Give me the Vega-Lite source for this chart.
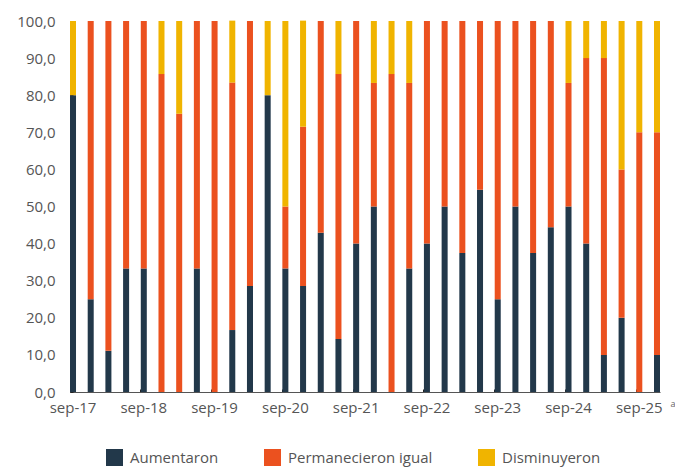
{
  "$schema": "https://vega.github.io/schema/vega-lite/v6.json",
  "width": 590,
  "height": 371,
  "autosize": {"type": "none"},
  "padding": {"left": 70, "top": 21, "right": 15, "bottom": 76},
  "background": "white",
  "config": {
    "font": "Open Sans",
    "view": {"stroke": null}
  },
  "data": {
    "values": [
      {"q": "sep-17", "Aumentaron": 80, "Permanecieron igual": 0, "Disminuyeron": 20},
      {"q": "dic-17", "Aumentaron": 25, "Permanecieron igual": 75, "Disminuyeron": 0},
      {"q": "mar-18", "Aumentaron": 11.1, "Permanecieron igual": 88.9, "Disminuyeron": 0},
      {"q": "jun-18", "Aumentaron": 33.3, "Permanecieron igual": 66.7, "Disminuyeron": 0},
      {"q": "sep-18", "Aumentaron": 33.3, "Permanecieron igual": 66.7, "Disminuyeron": 0},
      {"q": "dic-18", "Aumentaron": 0, "Permanecieron igual": 85.7, "Disminuyeron": 14.3},
      {"q": "mar-19", "Aumentaron": 0, "Permanecieron igual": 75, "Disminuyeron": 25},
      {"q": "jun-19", "Aumentaron": 33.3, "Permanecieron igual": 66.7, "Disminuyeron": 0},
      {"q": "sep-19", "Aumentaron": 0, "Permanecieron igual": 100, "Disminuyeron": 0},
      {"q": "dic-19", "Aumentaron": 16.7, "Permanecieron igual": 66.7, "Disminuyeron": 16.7},
      {"q": "mar-20", "Aumentaron": 28.6, "Permanecieron igual": 71.4, "Disminuyeron": 0},
      {"q": "jun-20", "Aumentaron": 80, "Permanecieron igual": 0, "Disminuyeron": 20},
      {"q": "sep-20", "Aumentaron": 33.3, "Permanecieron igual": 16.7, "Disminuyeron": 50},
      {"q": "dic-20", "Aumentaron": 28.6, "Permanecieron igual": 42.9, "Disminuyeron": 28.6},
      {"q": "mar-21", "Aumentaron": 42.9, "Permanecieron igual": 57.1, "Disminuyeron": 0},
      {"q": "jun-21", "Aumentaron": 14.3, "Permanecieron igual": 71.4, "Disminuyeron": 14.3},
      {"q": "sep-21", "Aumentaron": 40, "Permanecieron igual": 60, "Disminuyeron": 0},
      {"q": "dic-21", "Aumentaron": 50, "Permanecieron igual": 33.3, "Disminuyeron": 16.7},
      {"q": "mar-22", "Aumentaron": 0, "Permanecieron igual": 85.7, "Disminuyeron": 14.3},
      {"q": "jun-22", "Aumentaron": 33.3, "Permanecieron igual": 50, "Disminuyeron": 16.7},
      {"q": "sep-22", "Aumentaron": 40, "Permanecieron igual": 60, "Disminuyeron": 0},
      {"q": "dic-22", "Aumentaron": 50, "Permanecieron igual": 50, "Disminuyeron": 0},
      {"q": "mar-23", "Aumentaron": 37.5, "Permanecieron igual": 62.5, "Disminuyeron": 0},
      {"q": "jun-23", "Aumentaron": 54.5, "Permanecieron igual": 45.5, "Disminuyeron": 0},
      {"q": "sep-23", "Aumentaron": 25, "Permanecieron igual": 75, "Disminuyeron": 0},
      {"q": "dic-23", "Aumentaron": 50, "Permanecieron igual": 50, "Disminuyeron": 0},
      {"q": "mar-24", "Aumentaron": 37.5, "Permanecieron igual": 62.5, "Disminuyeron": 0},
      {"q": "jun-24", "Aumentaron": 44.4, "Permanecieron igual": 55.6, "Disminuyeron": 0},
      {"q": "sep-24", "Aumentaron": 50, "Permanecieron igual": 33.3, "Disminuyeron": 16.7},
      {"q": "dic-24", "Aumentaron": 40, "Permanecieron igual": 50, "Disminuyeron": 10},
      {"q": "mar-25", "Aumentaron": 10, "Permanecieron igual": 80, "Disminuyeron": 10},
      {"q": "jun-25", "Aumentaron": 20, "Permanecieron igual": 40, "Disminuyeron": 40},
      {"q": "sep-25", "Aumentaron": 0, "Permanecieron igual": 70, "Disminuyeron": 30},
      {"q": "dic-25", "Aumentaron": 10, "Permanecieron igual": 60, "Disminuyeron": 30}
    ]
  },
  "transform": [
    {"fold": ["Aumentaron", "Permanecieron igual", "Disminuyeron"], "as": ["serie", "valor"]},
    {"calculate": "indexof(['Aumentaron','Permanecieron igual','Disminuyeron'], datum.serie)", "as": "orden"}
  ],
  "mark": {"type": "bar", "strokeWidth": 0},
  "encoding": {
    "x": {
      "field": "q",
      "type": "ordinal",
      "sort": null,
      "scale": {"paddingInner": 0.66, "paddingOuter": 0},
      "axis": {
        "title": "a",
        "titleX": 600,
        "titleY": 11,
        "titleAlign": "left",
        "titleBaseline": "middle",
        "titleFontSize": 9,
        "titleFontWeight": "normal",
        "titleColor": "#666666",
        "titleAnchor": null,
        "bandPosition": 0,
        "labelAngle": 0,
        "labelOverlap": false,
        "labelExpr": "slice(datum.value,0,3)==='sep' ? datum.value : ''",
        "labelFontSize": 15,
        "labelColor": "#555555",
        "labelPadding": 11,
        "labelBaseline": "top",
        "domainColor": "#555555",
        "domainWidth": 1,
        "tickColor": "#222222",
        "tickSize": -3,
        "tickOpacity": {"condition": {"test": "slice(datum.value,0,3)==='sep'", "value": 1}, "value": 0}
      }
    },
    "y": {
      "field": "valor",
      "type": "quantitative",
      "stack": "zero",
      "scale": {"domain": [0, 100], "nice": false},
      "axis": {
        "title": null,
        "values": [0, 10, 20, 30, 40, 50, 60, 70, 80, 90, 100],
        "labelExpr": "replace(format(datum.value,'.1f'),'.',',')",
        "labelFontSize": 15,
        "labelColor": "#555555",
        "labelPadding": 18,
        "grid": false,
        "domainColor": "#333333",
        "tickColor": "#222222",
        "tickSize": -3
      }
    },
    "color": {
      "field": "serie",
      "type": "nominal",
      "scale": {
        "domain": ["Aumentaron", "Permanecieron igual", "Disminuyeron"],
        "range": ["#22384A", "#EB511F", "#F0B400"]
      },
      "legend": {
        "title": null,
        "orient": "none",
        "legendX": 36,
        "legendY": 428,
        "direction": "horizontal",
        "symbolType": "square",
        "symbolSize": 289,
        "symbolStrokeWidth": 0,
        "labelFontSize": 15,
        "labelColor": "#555555",
        "labelOffset": 7,
        "columnPadding": 45
      }
    },
    "order": {"field": "orden", "type": "quantitative"}
  }
}
